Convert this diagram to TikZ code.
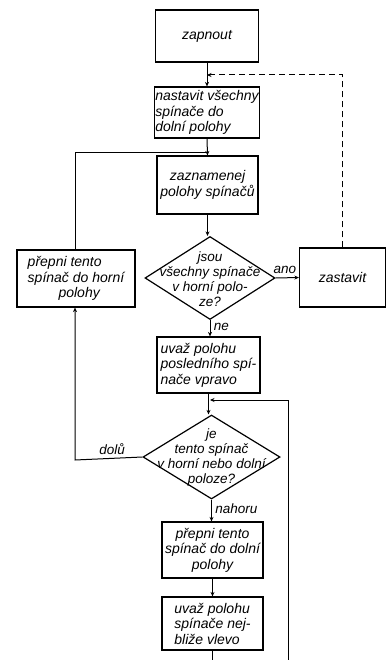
\documentclass[tikz,border=0pt]{standalone}
\usepackage{fontspec}
\setmainfont{Liberation Sans}
\usetikzlibrary{shapes.geometric,arrows.meta,calc}
\begin{document}
\begin{tikzpicture}[x=1pt,y=-1pt,
  every node/.style={font=\itshape\fontsize{14}{15.5}\selectfont},
  box/.style={draw,line width=1.2pt,align=center,inner sep=1pt},
  dia/.style={draw,line width=1.2pt,diamond,aspect=1.57,align=center,inner sep=0pt},
  link/.style={line width=1pt},
  arr/.style={link,-{Stealth[length=4.5pt,width=4pt]}},
  lbl/.style={font=\itshape\fontsize{13.5}{15}\selectfont}]
\useasboundingbox (0,0) rectangle (391,660);
\node[box,minimum width=103pt,minimum height=52pt] (zap) at (207,36) {zapnout};
\node[box,minimum width=104pt,minimum height=51pt,align=left] (nast) at (207,112.5) {nastavit všechny\\ spínače do\\ dolní polohy};
\node[box,minimum width=101pt,minimum height=58pt] (zazn) at (207.5,185) {zaznamenej\\ polohy spínačů};
\node[dia,minimum width=130pt,minimum height=83pt] (d1) at (210,278) {};
\node[align=center,lbl] (d1t) at (210,279) {jsou\\ všechny spínače\\ v horní polo-\\ ze?};
\node[box,minimum width=118pt,minimum height=57pt,align=left] (prep1) at (76,278.5) {přepni tento\\ spínač do horní\\ \hspace*{2.2em}polohy};
\node[box,minimum width=86pt,minimum height=59pt] (zast) at (342.5,277.5) {zastavit};
\node[box,minimum width=103pt,minimum height=56pt,align=left] (uvaz1) at (208.5,365) {uvaž polohu\\ posledního spí-\\ nače vpravo};
\node[dia,minimum width=137pt,minimum height=84pt] (d2) at (211.5,457) {};
\node[align=center,lbl] (d2t) at (211.5,458) {je\\ tento spínač\\ v horní nebo dolní\\ poloze?};
\node[box,minimum width=101pt,minimum height=56pt] (prep2) at (212.5,550) {přepni tento\\ spínač do dolní\\ polohy};
\node[box,minimum width=101pt,minimum height=53pt,align=left] (uvaz2) at (212.5,623.5) {uvaž polohu\\ spínače nej-\\ bliže vlevo};
% connectors
\draw[arr] (zap.south) -- (nast.north);
\draw[arr] (nast.south) -- (zazn.north);
\coordinate (j1) at (207,153);
\draw[link] (prep1.north -| 75,0) |- (j1);
\draw[arr] (zazn.south) -- (zazn.south |- d1.north);
\draw[arr] (d1.east) -- node[above,lbl,pos=0.4] {ano} (zast.west);
\coordinate (j2) at (207,75);
\draw[arr,dashed,dash pattern=on 6pt off 4pt] (zast.north) |- (j2);
\draw[arr] (d1.south) -- node[right,lbl,pos=0.4] {ne} (d1.south |- uvaz1.north);
\draw[arr] (uvaz1.south) -- (uvaz1.south |- d2.north);
\coordinate (lb) at (288,660);
\coordinate (j3) at (210,400);
\draw[arr] (lb) |- (j3);
\coordinate (c1) at (75,460);
\draw[arr] (d2.west) -- node[above,lbl,pos=0.45] {dolů} (c1) -- (c1 |- prep1.south);
\draw[arr] (d2.south) -- node[right,lbl,pos=0.4] {nahoru} (d2.south |- prep2.north);
\draw[arr] (prep2.south) -- (prep2.south |- uvaz2.north);
\coordinate (e1) at (212.5,660);
\draw[link] (uvaz2.south) -- (e1);
\end{tikzpicture}
\end{document}
